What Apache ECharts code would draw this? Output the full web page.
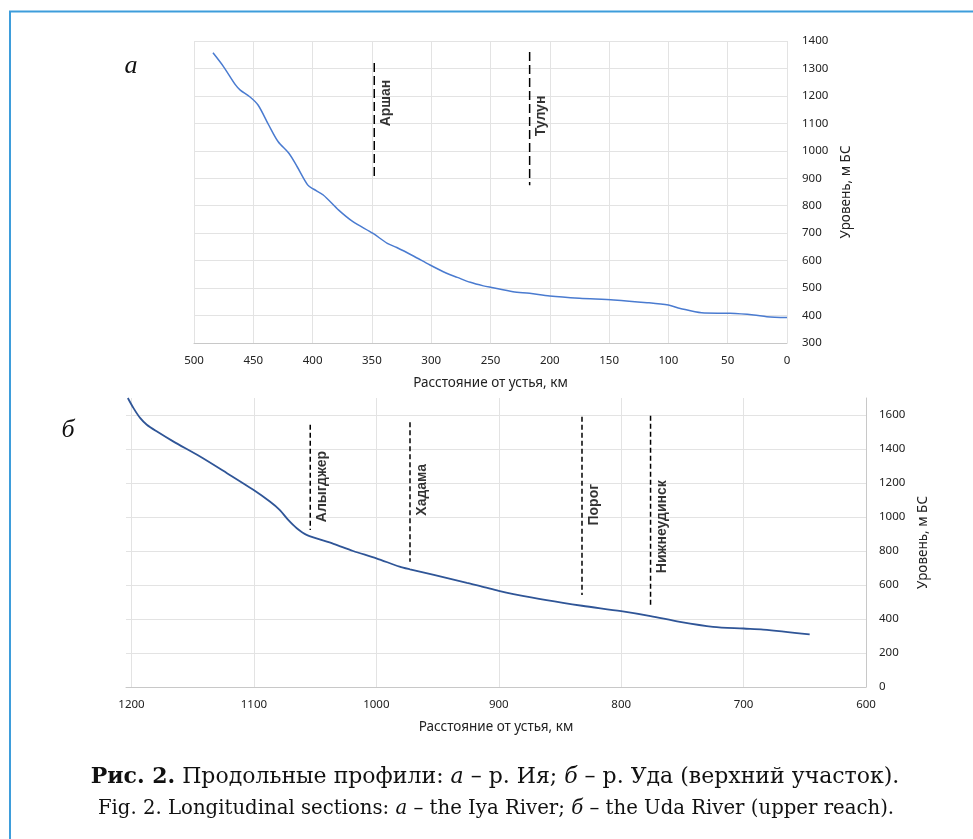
<!DOCTYPE html>
<html><head><meta charset="utf-8">
<script src="https://cdn.jsdelivr.net/npm/echarts@6/dist/echarts.min.js"></script>
<style>html,body{margin:0;padding:0;background:#fff}#c{width:973px;height:839px}</style>
</head><body><div id="c"></div>
<script>
// ---- Chart а: Iya River ----
const iyaKm   = [484, 475, 465, 461, 453, 446, 437, 429, 420, 413, 404, 399, 391, 378, 366, 349, 337, 329, 315, 301, 287, 278, 267, 256, 249, 231, 217, 200, 175, 146, 118, 100, 90, 72, 48, 28, 17, 0];
const iyaElev = [1357, 1306, 1240, 1221, 1197, 1167, 1094, 1033, 991, 942, 875, 860, 839, 784, 742, 699, 663, 648, 617, 584, 554, 539, 521, 508, 502, 487, 481, 471, 463, 457, 447, 438, 426, 410, 408, 402, 396, 393];
const iyaMarkNames  = ['Аршан', 'Тулун'];
const iyaMarkKm     = [348, 217];
const iyaMarkTop    = [1320, 1360];
const iyaMarkBottom = [895, 875];
const iyaMarkLabelY = [1174, 1127];

// ---- Chart б: Uda River ----
const udaKm   = [1203, 1198.5, 1193, 1187.5, 1179.5, 1166, 1144, 1122, 1100.5, 1087, 1079, 1072, 1065, 1057, 1035, 1019, 1000, 981, 972.5, 953, 926, 915, 900, 888, 861, 832, 800, 776, 752, 725, 700, 684, 646];
const udaElev = [1700, 1642, 1583, 1543, 1504, 1445, 1356, 1258, 1160, 1091, 1042, 983, 934, 895, 842, 800, 757, 708, 692, 659, 612, 594, 566, 547, 511, 478, 446, 417, 383, 354, 344, 338, 309];
const udaMarkNames  = ['Алыгджер', 'Хадама', 'Порог', 'Нижнеудинск'];
const udaMarkKm     = [1054, 972.5, 832, 776];
const udaMarkTop    = [1543, 1557, 1589, 1596];
const udaMarkBottom = [924, 737, 541, 482];
const udaMarkLabelY = [1179, 1160, 1072, 943];

const axisFont = 'Noto Sans';
const gridColor = '#E3E3E3';
const plain = v => String(v);

function markerSeries(names, km, top, bottom, labY, axisIdx, dash) {
  const out = [];
  names.forEach((n, i) => {
    out.push({
      type: 'line', xAxisIndex: axisIdx, yAxisIndex: axisIdx,
      data: [[km[i], top[i]], [km[i], bottom[i]]],
      symbol: 'none', silent: true,
      lineStyle: { color: '#000', width: 1.5, type: dash }
    });
  });
  out.push({
    type: 'scatter', xAxisIndex: axisIdx, yAxisIndex: axisIdx,
    data: names.map((n, i) => [km[i], labY[i], n]),
    symbolSize: 0, silent: true,
    label: {
      show: true, position: 'inside', rotate: 90, offset: [0, 12],
      formatter: p => p.data[2],
      fontFamily: 'Liberation Sans', fontWeight: 'bold', fontSize: 14, color: '#000'
    }
  });
  return out;
}

const chart = echarts.init(document.getElementById('c'), null, { renderer: 'canvas' });
chart.setOption({
  animation: false,
  backgroundColor: '#fff',
  grid: [
    { left: 194, top: 41, width: 593, height: 302 },
    { left: 126, top: 398, width: 740, height: 289 }
  ],
  xAxis: [
    { gridIndex: 0, type: 'value', inverse: true, min: 0, max: 500, interval: 50,
      name: 'Расстояние от устья, км', nameLocation: 'middle', nameGap: 33,
      nameTextStyle: { fontFamily: axisFont, fontSize: 13.5, color: '#222' },
      axisLine: { lineStyle: { color: '#C8C8C8' } }, axisTick: { show: false },
      axisLabel: { margin: 12, fontFamily: axisFont, fontSize: 11.5, color: '#222', formatter: plain },
      splitLine: { show: true, lineStyle: { color: gridColor } } },
    { gridIndex: 1, type: 'value', inverse: true, min: 600, max: 1204.5, interval: 100,
      name: 'Расстояние от устья, км', nameLocation: 'middle', nameGap: 33,
      nameTextStyle: { fontFamily: axisFont, fontSize: 13.5, color: '#222' },
      axisLine: { lineStyle: { color: '#C8C8C8' } }, axisTick: { show: false },
      axisLabel: { margin: 12, fontFamily: axisFont, fontSize: 11.5, color: '#222', showMaxLabel: false, formatter: plain },
      splitLine: { show: true, showMaxLine: false, lineStyle: { color: gridColor } } }
  ],
  yAxis: [
    { gridIndex: 0, type: 'value', position: 'right', min: 300, max: 1400, interval: 100,
      name: 'Уровень, м БС', nameLocation: 'middle', nameGap: 42, nameRotate: 90,
      nameTextStyle: { fontFamily: axisFont, fontSize: 13.5, color: '#222' },
      axisLine: { show: false }, axisTick: { show: false },
      axisLabel: { margin: 15, fontFamily: axisFont, fontSize: 11.5, color: '#222', formatter: plain },
      splitLine: { show: true, lineStyle: { color: gridColor } } },
    { gridIndex: 1, type: 'value', position: 'right', min: 0, max: 1700, interval: 200,
      name: 'Уровень, м БС', nameLocation: 'middle', nameGap: 39, nameRotate: 90,
      nameTextStyle: { fontFamily: axisFont, fontSize: 13.5, color: '#222' },
      axisLine: { show: true, lineStyle: { color: '#C8C8C8' } }, axisTick: { show: false },
      axisLabel: { margin: 13, fontFamily: axisFont, fontSize: 11.5, color: '#222', showMaxLabel: false, formatter: plain },
      splitLine: { show: true, showMaxLine: false, lineStyle: { color: gridColor } } }
  ],
  series: [
    { type: 'line', xAxisIndex: 0, yAxisIndex: 0, data: iyaKm.map((k, i) => [k, iyaElev[i]]),
      symbol: 'none', smooth: 0.3, lineStyle: { color: '#4A7BD0', width: 1.5 } },
    { type: 'line', xAxisIndex: 1, yAxisIndex: 1, data: udaKm.map((k, i) => [k, udaElev[i]]),
      symbol: 'none', smooth: 0.3, lineStyle: { color: '#2F5597', width: 1.8 } },
    ...markerSeries(iyaMarkNames, iyaMarkKm, iyaMarkTop, iyaMarkBottom, iyaMarkLabelY, 0, [9, 4]),
    ...markerSeries(udaMarkNames, udaMarkKm, udaMarkTop, udaMarkBottom, udaMarkLabelY, 1, [5, 3])
  ],
  graphic: [
    { type: 'rect', shape: { x: 10, y: 11.5, width: 1000, height: 900 }, silent: true,
      style: { fill: 'none', stroke: '#3E9DDB', lineWidth: 2 } },
    { type: 'text', x: 131, y: 66, silent: true,
      style: { text: 'а', font: 'italic 26px "Liberation Serif"', fill: '#111', align: 'center', verticalAlign: 'middle' } },
    { type: 'text', x: 68, y: 430, silent: true,
      style: { text: 'б', font: 'italic 26px "Liberation Serif"', fill: '#111', align: 'center', verticalAlign: 'middle' } },
    { type: 'text', x: 495, y: 777, silent: true,
      style: { text: '{b|Рис. 2.}{n| Продольные профили: }{i|а}{n| – р. Ия; }{i|б}{n| – р. Уда (верхний участок).}',
        align: 'center', verticalAlign: 'middle',
        rich: {
          b: { fontFamily: 'DejaVu Serif', fontWeight: 'bold', fontSize: 22, fill: '#111' },
          n: { fontFamily: 'DejaVu Serif', fontSize: 22, fill: '#111' },
          i: { fontFamily: 'DejaVu Serif', fontStyle: 'italic', fontSize: 22, fill: '#111' }
        } } },
    { type: 'text', x: 496, y: 809, silent: true,
      style: { text: '{n|Fig. 2. Longitudinal sections: }{i|a}{n| – the Iya River; }{i|б}{n| – the Uda River (upper reach).}',
        align: 'center', verticalAlign: 'middle',
        rich: {
          n: { fontFamily: 'DejaVu Serif', fontSize: 19.7, fill: '#111' },
          i: { fontFamily: 'DejaVu Serif', fontStyle: 'italic', fontSize: 19.7, fill: '#111' }
        } } }
  ]
});
</script></body></html>
